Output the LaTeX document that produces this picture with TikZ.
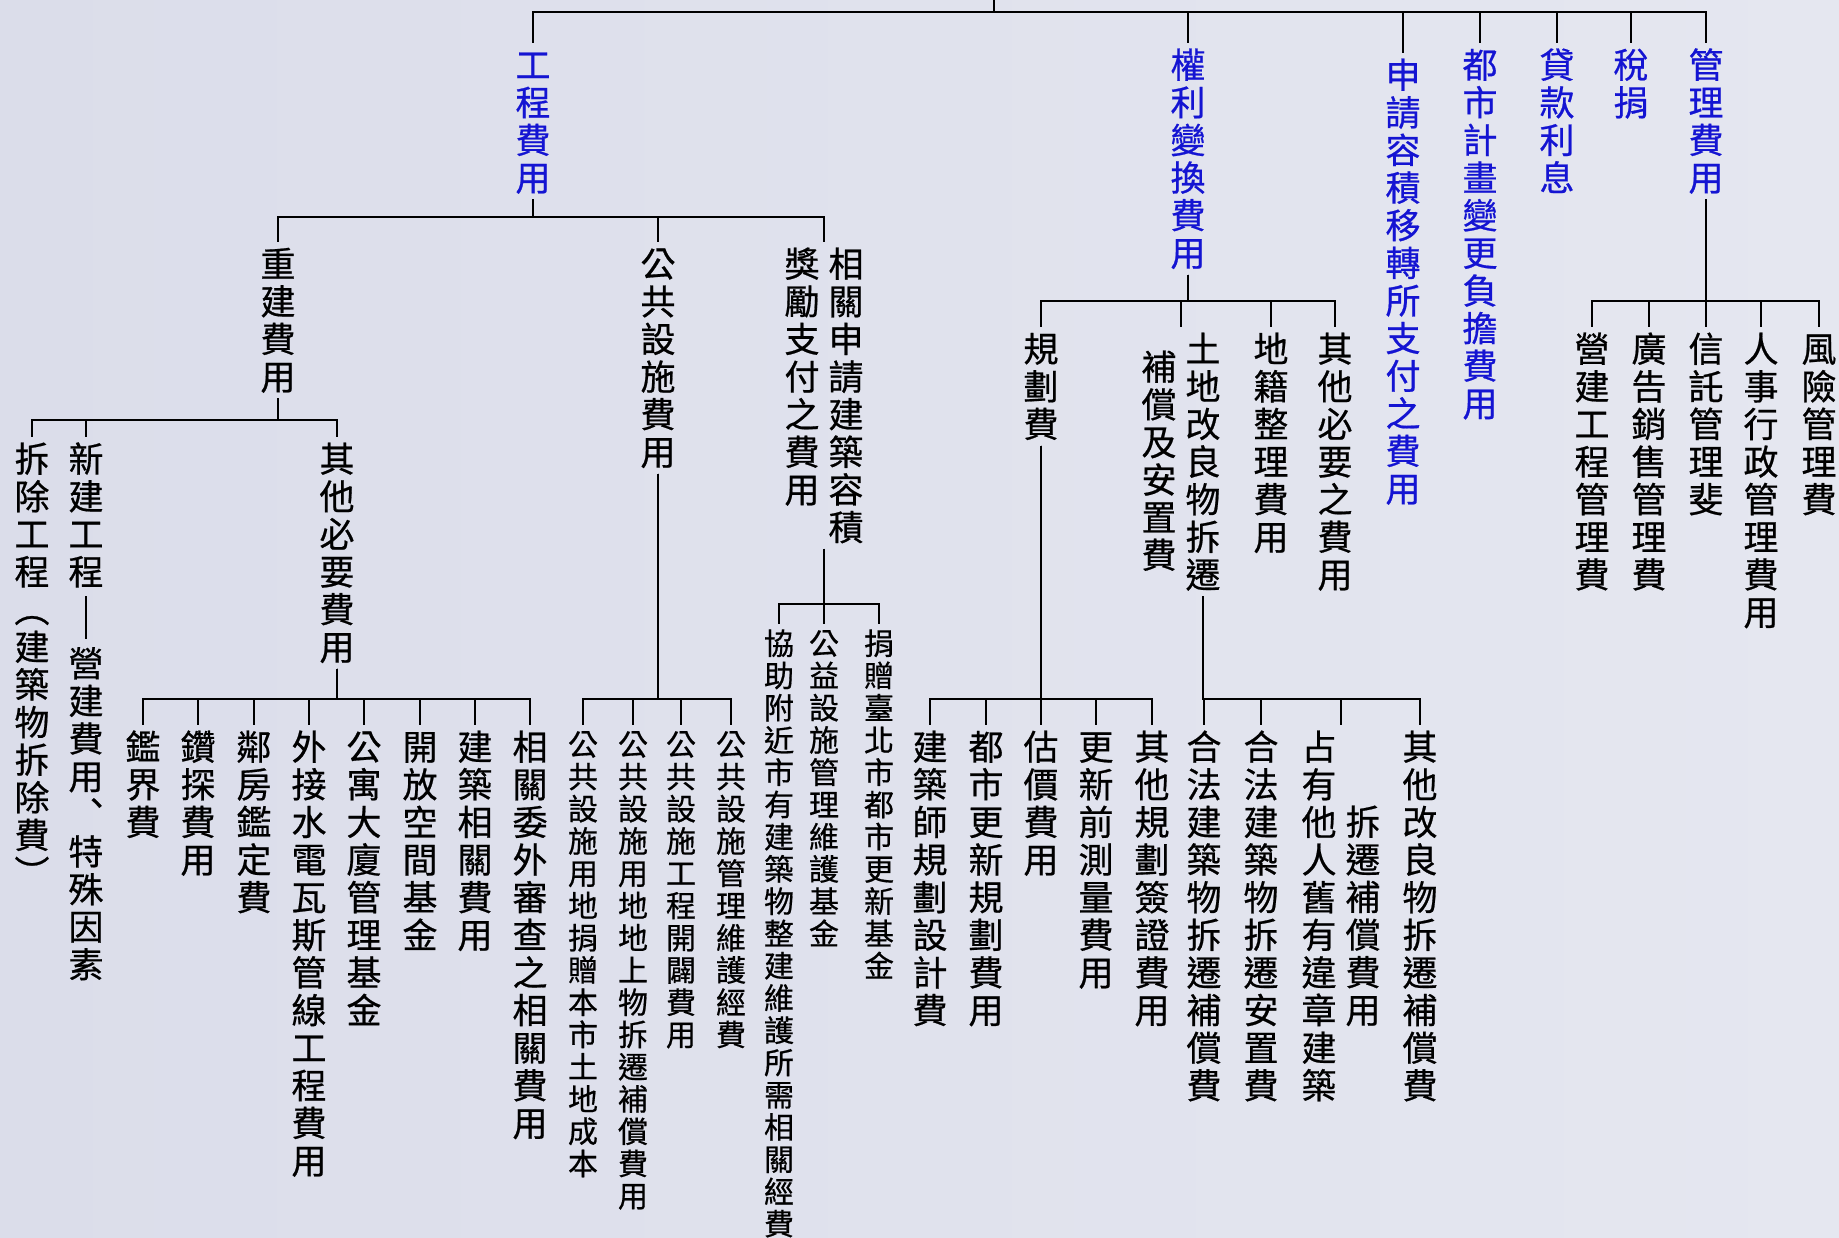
\documentclass[tikz,border=0pt]{standalone}
\usepackage{fontspec}
\setmainfont{Noto Sans CJK TC}[FakeBold=0.6]
\usepackage{xcolor}
\usepackage{tikz}

\definecolor{costblue}{RGB}{20,20,210}
\definecolor{paperl}{RGB}{219,221,234}
\definecolor{paperr}{RGB}{229,231,240}

% one column of upright characters, read top to bottom
\makeatletter
\newcommand\vcol[1]{\vtop{\baselineskip=1.075em\lineskiplimit=0pt\lineskip=.075em
  \@tfor\vch:=#1\do{\hbox to 1em{\hss\vch\hss\vrule height .88em depth .12em width 0pt}}}}
\makeatother
% long upright dash
\newcommand\cutbar{\raise.01em\hbox{\vrule height 1.22em width 2.2pt}\vrule height 1.35em depth .12em width 0pt}

\tikzset{
  headnode/.style={anchor=north, inner xsep=0pt, inner ysep=4pt, text=costblue, font=\fontsize{35}{37.6}\selectfont},
  itemnode/.style={anchor=north, inner xsep=0pt, inner ysep=4pt, font=\fontsize{35}{37.6}\selectfont},
  smallnode/.style={itemnode, font=\fontsize{30}{32.3}\selectfont},
  branch/.style={line width=1.6pt}
}

\begin{document}
\begin{tikzpicture}[x=1pt, y=-1pt]

\shade[left color=paperl, right color=paperr] (0,0) rectangle (1839,1237);
\useasboundingbox (0,0) rectangle (1839,1237);

\coordinate (top) at (994,0);
\coordinate (bar0) at (0,12);

% first level
\node[headnode] (eng) at (533,43) {\vcol{工程費用}};
\node[headnode] (rights) at (1188,43) {\vcol{權利變換費用}};
\node[headnode] (transfer) at (1403,53) {\vcol{申請容積移轉所支付之費用}};
\node[headnode] (cityplan) at (1480,43) {\vcol{都市計畫變更負擔費用}};
\node[headnode] (loan) at (1557,43) {\vcol{貸款利息}};
\node[headnode] (tax) at (1631,43) {\vcol{稅捐}};
\node[headnode] (manage) at (1706,43) {\vcol{管理費用}};

\draw[branch] (top) -- (top |- bar0);
\foreach \c in {eng,rights,transfer,cityplan,loan,tax,manage}
  \draw[branch] (top |- bar0) -| (\c.north);

% engineering
\coordinate (bar1) at (0,217);
\node[itemnode] (rebuild) at (278,242) {\vcol{重建費用}};
\node[itemnode] (public) at (658,242) {\vcol{公共設施費用}};
\node[itemnode] (bonus) at (824,242) {\vcol{獎勵支付之費用}\hskip9pt\vcol{相關申請建築容積}};

\foreach \c in {rebuild,public,bonus}
  \draw[branch] (eng.south) -- (eng.south |- bar1) -| (\c.north);

\coordinate (bar2) at (0,420);
\node[itemnode] (demolish) at (32,437) {\vcol{拆除工程︵建築物拆除費︶}};
\node[itemnode] (newbuild) at (86,437) {\vcol{新建工程\cutbar 營建費用︑特殊因素}};
\node[itemnode] (othernec) at (337,437) {\vcol{其他必要費用}};

\foreach \c in {demolish,newbuild,othernec}
  \draw[branch] (rebuild.south) -- (rebuild.south |- bar2) -| (\c.north);

\coordinate (bar3) at (0,699);
\node[itemnode] (survey) at (143,725) {\vcol{鑑界費}};
\node[itemnode] (drill) at (198,725) {\vcol{鑽探費用}};
\node[itemnode] (neighbor) at (254,725) {\vcol{鄰房鑑定費}};
\node[itemnode] (utility) at (309,725) {\vcol{外接水電瓦斯管線工程費用}};
\node[itemnode] (condo) at (364,725) {\vcol{公寓大廈管理基金}};
\node[itemnode] (openspace) at (420,725) {\vcol{開放空間基金}};
\node[itemnode] (buildrel) at (475,725) {\vcol{建築相關費用}};
\node[itemnode] (review) at (530,725) {\vcol{相關委外審查之相關費用}};

\foreach \c in {survey,drill,neighbor,utility,condo,openspace,buildrel,review}
  \draw[branch] (othernec.south) -- (othernec.south |- bar3) -| (\c.north);

\node[smallnode] (donate) at (583,725) {\vcol{公共設施用地捐贈本市土地成本}};
\node[smallnode] (relocate) at (633,725) {\vcol{公共設施用地地上物拆遷補償費用}};
\node[smallnode] (works) at (681,725) {\vcol{公共設施工程開闢費用}};
\node[smallnode] (upkeep) at (731,725) {\vcol{公共設施管理維護經費}};

\foreach \c in {donate,relocate,works,upkeep}
  \draw[branch] (public.south) -- (public.south |- bar3) -| (\c.north);

\coordinate (bar4) at (0,604);
\node[smallnode] (assist) at (779,624) {\vcol{協助附近市有建築物整建維護所需相關經費}};
\node[smallnode] (welfare) at (824,624) {\vcol{公益設施管理維護基金}};
\node[smallnode] (fund) at (879,624) {\vcol{捐贈臺北市都市更新基金}};

\foreach \c in {assist,welfare,fund}
  \draw[branch] (bonus.south) -- (bonus.south |- bar4) -| (\c.north);

% rights conversion
\coordinate (bar5) at (0,301);
\node[itemnode] (planfee) at (1041,327) {\vcol{規劃費}};
\node[itemnode] (land) at (1181,327) {\lower18pt\vcol{補償及安置費}\hskip9pt\vcol{土地改良物拆遷}};
\node[itemnode] (cadastral) at (1271,327) {\vcol{地籍整理費用}};
\node[itemnode] (rightsother) at (1335,327) {\vcol{其他必要之費用}};

\foreach \c in {planfee,land,cadastral,rightsother}
  \draw[branch] (rights.south) -- (rights.south |- bar5) -| (\c.north);

\node[itemnode] (architect) at (930,725) {\vcol{建築師規劃設計費}};
\node[itemnode] (renewplan) at (986,725) {\vcol{都市更新規劃費用}};
\node[itemnode] (appraise) at (1041,725) {\vcol{估價費用}};
\node[itemnode] (measure) at (1096,725) {\vcol{更新前測量費用}};
\node[itemnode] (certify) at (1152,725) {\vcol{其他規劃簽證費用}};

\foreach \c in {architect,renewplan,appraise,measure,certify}
  \draw[branch] (planfee.south) -- (planfee.south |- bar3) -| (\c.north);

\coordinate (landfoot) at ([xshift=-17.5pt]land.south east);
\node[itemnode] (legalcomp) at (1204,725) {\vcol{合法建築物拆遷補償費}};
\node[itemnode] (legalhouse) at (1261,725) {\vcol{合法建築物拆遷安置費}};
\node[itemnode] (occupy) at (1341,725) {\vcol{占有他人舊有違章建築}\hskip9pt\lower75pt\vcol{拆遷補償費用}};
\node[itemnode] (otherimp) at (1420,725) {\vcol{其他改良物拆遷補償費}};

\foreach \c in {legalcomp,legalhouse,occupy,otherimp}
  \draw[branch] (landfoot) -- (landfoot |- bar3) -| (\c.north);

% management
\node[itemnode] (constmgmt) at (1592,327) {\vcol{營建工程管理費}};
\node[itemnode] (adsales) at (1649,327) {\vcol{廣告銷售管理費}};
\node[itemnode] (trust) at (1706,327) {\vcol{信託管理斐}};
\node[itemnode] (staff) at (1761,327) {\vcol{人事行政管理費用}};
\node[itemnode] (risk) at (1819,327) {\vcol{風險管理費}};

\foreach \c in {constmgmt,adsales,trust,staff,risk}
  \draw[branch] (manage.south) -- (manage.south |- bar5) -| (\c.north);

\end{tikzpicture}
\end{document}
